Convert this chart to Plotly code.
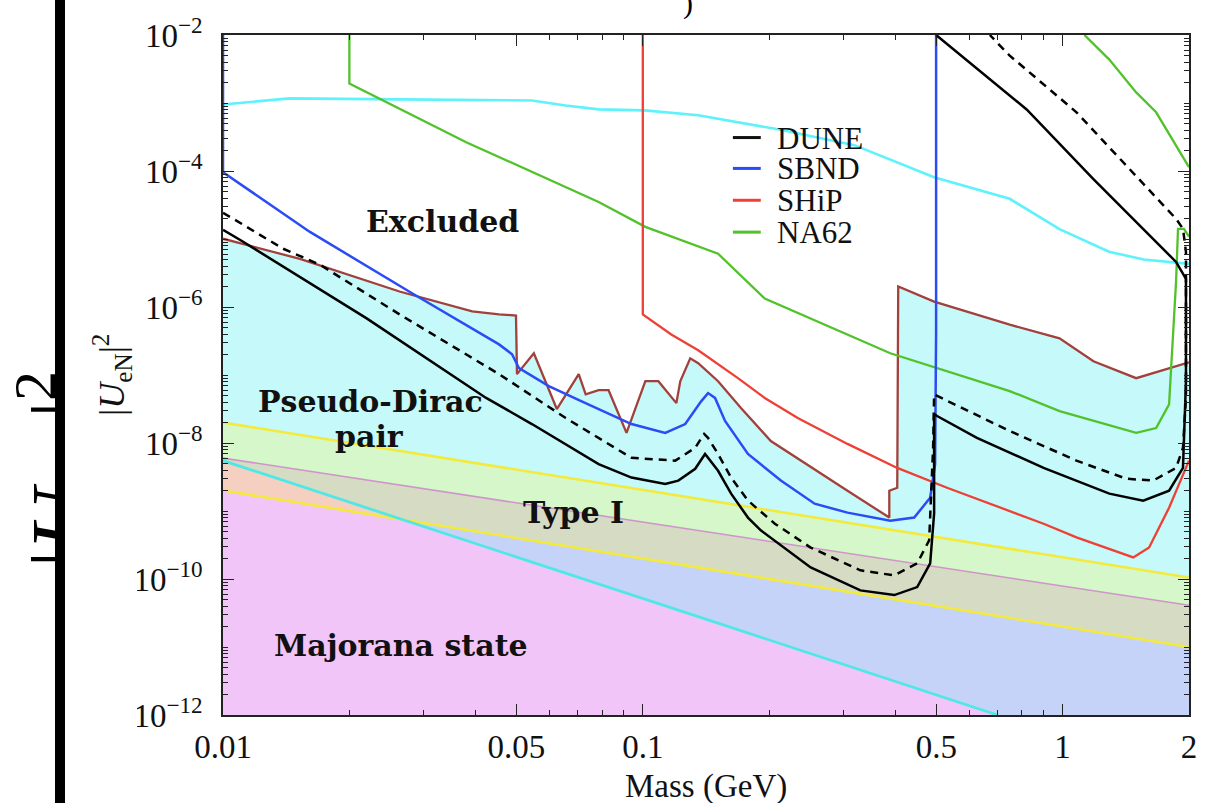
import numpy as np
import plotly.graph_objects as go

# ---------------- data (mass in GeV, |U_eN|^2) ----------------
# boundary of the already-excluded region (upper edge of the cyan area)
excl_mass = [0.01, 0.01525, 0.02633, 0.03923, 0.04545, 0.04988, 0.05015, 0.05501, 0.0624,
             0.07036, 0.0731, 0.07848, 0.08288, 0.09145, 0.1014, 0.1089, 0.1202, 0.1228,
             0.1297, 0.1355, 0.1511, 0.1713, 0.2018, 0.2608, 0.3073, 0.3865, 0.3865, 0.4037,
             0.4059, 0.4942, 0.7481, 0.9832, 1.184, 1.497, 2.0]
excl_u2 = [1.01e-5, 5.1e-6, 1.69e-6, 8.6e-7, 7.8e-7, 7.5e-7, 1.03e-7, 2.09e-7, 3.16e-8,
           1.03e-7, 5.2e-8, 5.98e-8, 5.98e-8, 1.41e-8, 8.1e-8, 8.1e-8, 3.86e-8, 8.1e-8,
           1.76e-7, 1.49e-7, 8.1e-8, 3.27e-8, 1.07e-8, 3.9e-9, 1.99e-9, 8.0e-10, 1.99e-9, 2.2e-9,
           2.0e-6, 1.2e-6, 5.5e-7, 3.46e-7, 1.59e-7, 8.98e-8, 1.54e-7]

# light-cyan bound across the top
top_mass = [0.01, 0.0144, 0.0263, 0.0544, 0.0655, 0.0785, 0.101, 0.1355, 0.21, 0.319,
            0.494, 0.748, 0.983, 1.29, 1.56, 2.0]
top_u2 = [9.5e-4, 1.17e-3, 1.13e-3, 1.09e-3, 9.2e-4, 8.05e-4, 7.8e-4, 6.6e-4, 4.1e-4, 2.4e-4,
          8.1e-5, 3.9e-5, 1.4e-5, 6.5e-6, 5.0e-6, 4.3e-6]

# DUNE (solid and dashed)
dune_mass = [0.01, 0.01117, 0.02199, 0.04234, 0.05443, 0.07848, 0.09397, 0.1131, 0.1215,
             0.1333, 0.1407, 0.1511, 0.1623, 0.178, 0.191, 0.2511, 0.3298, 0.3972, 0.4504,
             0.4836, 0.4942, 0.4942, 0.5023, 0.6249, 0.9009, 1.292, 1.556, 1.793, 1.935,
             1.967, 1.967, 1.863, 1.184, 0.821, 0.4996]
dune_u2 = [1.36e-5, 9.1e-6, 6.8e-7, 4.6e-8, 1.9e-8, 4.9e-9, 3.1e-9, 2.5e-9, 2.8e-9,
           4.18e-9, 6.9e-9, 3.9e-9, 1.8e-9, 8.0e-10, 5.2e-10, 1.48e-10, 6.8e-11, 5.8e-11, 7.6e-11,
           1.7e-10, 9.2e-10, 2.67e-8, 2.49e-8, 1.19e-8, 4.3e-9, 1.8e-9, 1.42e-9, 1.99e-9, 4.3e-9,
           8.1e-8, 2.6e-6, 4.6e-6, 7.6e-5, 8.05e-4, 1e-2]

dune2_mass = [0.01, 0.01058, 0.0139, 0.01701, 0.02633, 0.04545, 0.06553, 0.09397, 0.1195,
              0.1333, 0.14, 0.143, 0.1511, 0.1623, 0.178, 0.2063, 0.2511, 0.3298, 0.3972,
              0.4504, 0.4809, 0.4915, 0.4942, 0.5219, 0.7481, 1.079, 1.418, 1.643, 1.863,
              1.935, 1.967, 1.967, 1.935, 1.863, 1.079, 0.7481, 0.6708]
dune2_u2 = [2.42e-5, 1.98e-5, 7.2e-6, 4.2e-6, 7.8e-7, 1.03e-7, 2.33e-8, 6.05e-9, 5.5e-9,
            8.5e-9, 1.36e-8, 1.19e-8, 6.9e-9, 3.1e-9, 1.42e-9, 6.5e-10, 2.9e-10, 1.34e-10, 1.13e-10,
            1.7e-10, 3.7e-10, 8.5e-9, 5.2e-8, 4.4e-8, 1.5e-8, 5.5e-9, 2.98e-9, 2.8e-9, 4.3e-9,
            8.5e-9, 4.6e-8, 6.5e-6, 1.41e-5, 1.98e-5, 7.3e-4, 4.98e-3, 1e-2]

# SBND
sbnd_mass = [0.01, 0.01, 0.01611, 0.02827, 0.04545, 0.04881, 0.0507, 0.05972, 0.07152,
             0.09397, 0.1131, 0.1262, 0.1377, 0.143, 0.1486, 0.157, 0.178, 0.2132, 0.2566,
             0.3073, 0.3886, 0.4431, 0.4836, 0.4969, 0.4996, 0.4996]
sbnd_u2 = [1e-2, 9.6e-5, 1.27e-5, 1.58e-6, 2.82e-7, 2.02e-7, 1.26e-7, 6.86e-8, 4.1e-8,
           1.9e-8, 1.41e-8, 1.9e-8, 4.1e-8, 5.42e-8, 4.6e-8, 2.11e-8, 6.9e-9, 2.8e-9, 1.28e-9,
           9.46e-10, 7.2e-10, 8.0e-10, 1.57e-9, 4.9e-9, 4.38e-7, 1e-2]

# SHiP
ship_mass = [0.1, 0.1, 0.1169, 0.1355, 0.1685, 0.1952, 0.2339, 0.3073, 0.4037, 0.5305,
             0.9009, 1.079, 1.473, 1.607, 1.793, 2.0]
ship_u2 = [1e-2, 7.8e-7, 3.95e-7, 2.31e-7, 8.98e-8, 4.6e-8, 2.33e-8, 9.7e-9, 4.3e-9, 2.2e-9,
           6.5e-10, 4.1e-10, 2.08e-10, 2.9e-10, 1.12e-9, 5.5e-9]

# NA62 (two pieces)
na62_mass = [0.02, 0.02, 0.03796, 0.05443, 0.07848, 0.1014, 0.1511, 0.1952, 0.3886, 0.7481,
             0.9832, 1.497, 1.67, 1.793, 1.863, 1.883, 1.945, 2.0]
na62_u2 = [1e-2, 1.94e-3, 2.65e-4, 9.6e-5, 3.5e-5, 1.51e-5, 6.07e-6, 1.33e-6, 2.09e-7, 5.8e-8,
           2.95e-8, 1.41e-8, 1.66e-8, 3.7e-8, 2.36e-6, 1.41e-5, 1.41e-5, 1.08e-5]
na62b_mass = [1.127, 1.292, 1.497, 1.67, 1.967, 2.0]
na62b_u2 = [1e-2, 4.35e-3, 1.43e-3, 7.3e-4, 1.35e-4, 1.14e-4]

# theory bands: straight lines in log-log, given by their end points
band_mass = [0.01, 2.0]
typeI_hi = [2.0e-8, 1.05e-10]
pseudo_lo = [6.0e-9, 4.1e-11]
typeI_lo = [2.0e-9, 1.0e-11]
major_mass = [0.01, 0.70]
major_hi = [5.5e-9, 1e-12]

Y_MIN, Y_MAX = 1e-12, 1e-2
X_MIN, X_MAX = 0.01, 2.0

# ---------------- layout geometry (pixels) ----------------
W, H = 1209, 803
PL, PR, PT, PB = 223, 1193, 32, 715


def px(x):
    return (x - PL) / (PR - PL)


def py(y):
    return (PB - y) / (PB - PT)


SERIF = "Liberation Serif"
BOLD = "DejaVu Serif"

fig = go.Figure()


def poly(xs, ys, color):
    fig.add_trace(go.Scatter(x=xs, y=ys, mode="lines", fill="toself", fillcolor=color,
                             line=dict(width=0), hoverinfo="skip", showlegend=False))


def curve(xs, ys, color, width=2.2, dash=None):
    fig.add_trace(go.Scatter(x=xs, y=ys, mode="lines",
                             line=dict(color=color, width=width, dash=dash),
                             hoverinfo="skip", showlegend=False))


# crossing of the Majorana edge with the lower Type-I edge (log-log straight lines)
lx = np.log10(band_mass)
a1 = (np.log10(major_hi[1]) - np.log10(major_hi[0])) / (np.log10(major_mass[1]) - np.log10(major_mass[0]))
b1 = np.log10(major_hi[0]) - a1 * np.log10(major_mass[0])
a2 = (np.log10(typeI_lo[1]) - np.log10(typeI_lo[0])) / (lx[1] - lx[0])
b2 = np.log10(typeI_lo[0]) - a2 * lx[0]
xc = (b2 - b1) / (a1 - a2)
cross_m, cross_u = 10 ** xc, 10 ** (a1 * xc + b1)

# filled regions
poly(excl_mass + [X_MAX, X_MIN], excl_u2 + [Y_MIN, Y_MIN], "#c5f9fa")
poly([band_mass[0], band_mass[1], X_MAX, X_MIN], [typeI_lo[0], typeI_lo[1], Y_MIN, Y_MIN], "#c6d3f8")
poly([band_mass[0], band_mass[1], band_mass[1], band_mass[0]],
     [pseudo_lo[0], pseudo_lo[1], typeI_lo[1], typeI_lo[0]], "#d6dcc4")
poly([band_mass[0], band_mass[1], band_mass[1], band_mass[0]],
     [typeI_hi[0], typeI_hi[1], pseudo_lo[1], pseudo_lo[0]], "#d6f7c9")
poly([major_mass[0], major_mass[1], X_MIN], [major_hi[0], major_hi[1], Y_MIN], "#f2c5f9")
poly([major_mass[0], cross_m, band_mass[0]], [major_hi[0], cross_u, typeI_lo[0]], "#f5d0c1")

# band edges
curve(band_mass, typeI_hi, "#f3ea3c", 2.6)
curve(band_mass, pseudo_lo, "#cf95c9", 1.6)
curve(band_mass, typeI_lo, "#f3ea3c", 2.6)
curve(major_mass, major_hi, "#4fe8e6", 2.8)

# experimental curves
curve(excl_mass, excl_u2, "#a2403c", 2.3)
curve(top_mass, top_u2, "#5ef2fb", 2.6)
curve(na62_mass, na62_u2, "#52c22a", 2.3)
curve(na62b_mass, na62b_u2, "#52c22a", 2.3)
curve(ship_mass, ship_u2, "#ee4035", 2.3)
curve(sbnd_mass, sbnd_u2, "#2b4cf5", 2.5)
curve(dune2_mass, dune2_u2, "black", 2.5, "8px,6px")
curve(dune_mass, dune_u2, "black", 2.5)

# ---------------- axes ----------------
x_major = [0.01, 0.05, 0.1, 0.5, 1, 2]
x_labels = ["0.01", "0.05", "0.1", "0.5", "1", "2"]
x_minor = [0.02, 0.03, 0.04, 0.06, 0.07, 0.08, 0.09, 0.2, 0.3, 0.4, 0.6, 0.7, 0.8, 0.9]
y_exps = [-12, -10, -8, -6, -4, -2]
y_major = [10.0 ** e for e in y_exps]
y_labels = ["10<sup>\u2212%d</sup>" % (-e) for e in y_exps]
y_minor = [k * 10.0 ** e for e in range(-12, -2) for k in range(2, 11)
           if not (k == 10 and e % 2 == 1)]

axis_common = dict(type="log", showline=True, linecolor="#222", linewidth=1.6,
                   mirror="allticks", ticks="inside", ticklen=11, tickwidth=1.3,
                   tickcolor="#222", showgrid=False, zeroline=False,
                   tickfont=dict(family=SERIF, size=33, color="#111"))

fig.update_xaxes(range=[np.log10(X_MIN), np.log10(X_MAX)], tickmode="array",
                 tickvals=x_major, ticktext=x_labels, ticklabelstandoff=2,
                 minor=dict(tickmode="array", tickvals=x_minor, ticks="inside", ticklen=5,
                            tickcolor="#222", showgrid=False),
                 **axis_common)
fig.update_yaxes(range=[np.log10(Y_MIN), np.log10(Y_MAX)], tickmode="array",
                 tickvals=y_major, ticktext=y_labels, ticklabelstandoff=12,
                 minor=dict(tickmode="array", tickvals=y_minor, ticks="inside", ticklen=5,
                            tickcolor="#222", showgrid=False),
                 **axis_common)

# ---------------- text ----------------
ann = []


def text(x, y, s, size, family=SERIF, angle=0, xanchor="center", yanchor="middle",
         color="#111", height=None):
    a = dict(x=px(x), y=py(y), xref="paper", yref="paper", text=s, showarrow=False,
             textangle=angle, xanchor=xanchor, yanchor=yanchor,
             font=dict(family=family, size=size, color=color))
    if height is not None:
        a["height"] = height
    ann.append(a)


def block(x, y, w, h, color):
    ann.append(dict(x=px(x), y=py(y), xref="paper", yref="paper", text=" ", showarrow=False,
                    width=w, height=h, bgcolor=color, borderpad=0, borderwidth=0,
                    xanchor="center", yanchor="middle"))


# large axis label of the slide behind, partly hidden by the window edge
text(60, 468, "|<i>U</i><sub>eN</sub>|<sup>2</sup>", 86, angle=-90, color="black")
block(100, 401, 72, 830, "white")
block(59, 401, 10, 830, "black")
text(690, 0, ")", 30, color="black")

text(111, 373, "|<i>U</i><sub>eN</sub>|<sup>2</sup>", 36, angle=-90)
text(708, 787, "Mass (GeV)", 33)

text(443, 219, "<b>Excluded</b>", 30, family=BOLD)
text(371, 400, "<b>Pseudo-Dirac</b>", 30, family=BOLD)
text(370, 435, "<b>pair</b>", 30, family=BOLD)
text(575, 512, "<b>Type I</b>", 30, family=BOLD)
text(402, 645, "<b>Majorana state</b>", 30, family=BOLD)

# legend
legend_names = ["DUNE", "SBND", "SHiP", "NA62"]
legend_colors = ["#111", "#2b4cf5", "#ee4035", "#52c22a"]
legend_y = [135, 166, 198, 230]
shapes = []
for name, col, yy in zip(legend_names, legend_colors, legend_y):
    shapes.append(dict(type="line", xref="paper", yref="paper", x0=px(735), x1=px(763),
                       y0=py(yy), y1=py(yy), line=dict(color=col, width=3)))
    text(777, yy, name, 31, xanchor="left", height=30)

fig.update_layout(width=W, height=H, autosize=False,
                  margin=dict(l=PL, r=W - PR, t=PT, b=H - PB, pad=0),
                  paper_bgcolor="white", plot_bgcolor="white",
                  showlegend=False, annotations=ann, shapes=shapes)

fig.write_html("out.html")
